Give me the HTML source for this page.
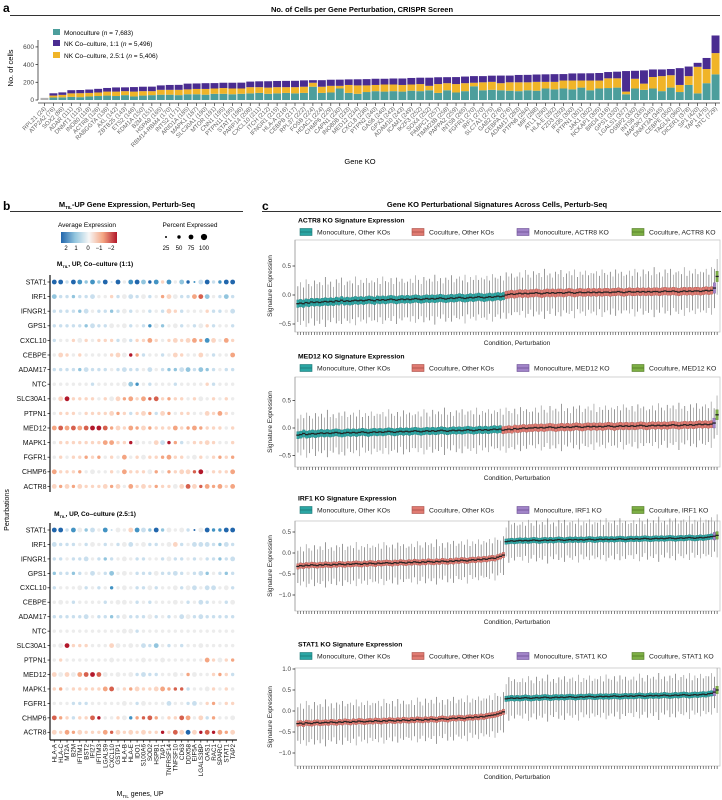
<!DOCTYPE html>
<html><head><meta charset="utf-8">
<style>
html,body{margin:0;padding:0;background:#fff;}
svg{display:block;font-family:"Liberation Sans",sans-serif;}
</style></head>
<body>
<svg id="fig" width="722" height="800" viewBox="0 0 722 800" xmlns="http://www.w3.org/2000/svg">
<defs>
<linearGradient id="cbar" x1="0" x2="1" y1="0" y2="0">
<stop offset="0" stop-color="#2166ac"/><stop offset="0.25" stop-color="#92c5de"/><stop offset="0.5" stop-color="#f7f7f7"/><stop offset="0.75" stop-color="#f4a582"/><stop offset="1" stop-color="#b2182b"/>
</linearGradient>
</defs>
<!-- Panel a static -->
<text x="3" y="12" font-size="12" font-weight="bold">a</text>
<text x="362" y="12" font-size="7.5" font-weight="bold" text-anchor="middle">No. of Cells per Gene Perturbation, CRISPR Screen</text>
<line x1="10" y1="15.5" x2="720" y2="15.5" stroke="#333" stroke-width="1"/>
<text transform="translate(13,68) rotate(-90)" font-size="7.5" text-anchor="middle">No. of cells</text>
<text x="360" y="164" font-size="7.5" text-anchor="middle">Gene KO</text>
<g>
<rect x="53" y="29" width="7" height="6" fill="#4c9e9c"/>
<text x="64" y="35" font-size="6.5">Monoculture (<tspan font-style="italic">n</tspan> = 7,683)</text>
<rect x="53" y="40" width="7" height="6" fill="#4a2c91"/>
<text x="64" y="46" font-size="6.5">NK Co–culture, 1:1 (<tspan font-style="italic">n</tspan> = 5,496)</text>
<rect x="53" y="52" width="7" height="6" fill="#f0b428"/>
<text x="64" y="58" font-size="6.5">NK Co–culture, 2.5:1 (<tspan font-style="italic">n</tspan> = 5,406)</text>
</g>
<g id="pa"></g>

<!-- Panel b static -->
<text x="3" y="210" font-size="12" font-weight="bold">b</text>
<text x="127" y="207" font-size="7.5" font-weight="bold" text-anchor="middle">M<tspan font-size="4.5" dy="2">TIL</tspan><tspan dy="-2">-UP Gene Expression, Perturb-Seq</tspan></text>
<line x1="10" y1="211.5" x2="243" y2="211.5" stroke="#333" stroke-width="1"/>
<text x="87" y="227" font-size="6.5" text-anchor="middle">Average Expression</text>
<rect x="61" y="232" width="56" height="11" fill="url(#cbar)"/>
<g font-size="6" text-anchor="middle">
<text x="66" y="250">2</text><text x="76" y="250">1</text><text x="88" y="250">0</text><text x="99" y="250">−1</text><text x="111" y="250">−2</text></g>
<text x="190" y="227" font-size="6.5" text-anchor="middle">Percent Expressed</text>
<g font-size="6" text-anchor="middle">
<circle cx="166" cy="237" r="1"/><circle cx="179" cy="237" r="1.7"/><circle cx="191" cy="237" r="2.4"/><circle cx="204" cy="237" r="3.1"/>
<text x="166" y="250">25</text><text x="179" y="250">50</text><text x="191" y="250">75</text><text x="204" y="250">100</text></g>
<text x="95" y="266" font-size="6.5" font-weight="bold" text-anchor="middle">M<tspan font-size="4" dy="2">TIL</tspan><tspan dy="-2">, UP, Co–culture (1:1)</tspan></text>
<text x="95" y="516" font-size="6.5" font-weight="bold" text-anchor="middle">M<tspan font-size="4" dy="2">TIL</tspan><tspan dy="-2">, UP, Co–culture (2.5:1)</tspan></text>
<text transform="translate(9,510) rotate(-90)" font-size="7" text-anchor="middle">Perturbations</text>
<text x="140" y="796" font-size="7" text-anchor="middle">M<tspan font-size="4.5" dy="2">TIL</tspan><tspan dy="-2"> genes, UP</tspan></text>
<g id="pb"></g>

<!-- Panel c static -->
<text x="262" y="210" font-size="12" font-weight="bold">c</text>
<text x="497" y="207" font-size="7.5" font-weight="bold" text-anchor="middle">Gene KO Perturbational Signatures Across Cells, Perturb-Seq</text>
<line x1="262" y1="211.5" x2="721" y2="211.5" stroke="#333" stroke-width="1"/>
<g id="pc"></g>
</svg>
<script>
// ---------- Panel a data ----------
const geneLabels = ["RPL21 (24)","ATP2A2 (76)","SOX2 (86)","ADAR (111)","DNMT1 (113)","INO80 (118)","ACTR8 (126)","RABGGTA (136)","AXL (142)","ZBTB25 (143)","ETS2 (146)","KDM1A (150)","B2M (151)","HSPA9 (165)","RBM14-RBM4 (170)","INTS2 (171)","ARID1A (185)","MAPK1 (187)","SLC30A1 (190)","MTOR (191)","CNN1 (195)","PTPN11 (195)","STAT1 (196)","PARP14 (208)","CXCL10 (211)","ITCH (212)","IFNGR1 (215)","HLA-A (216)","CEBPB (217)","RPL37 (222)","FOSB (224)","HDAC1 (224)","CHMP6 (229)","CAPN1 (230)","INO80B (233)","MED12 (234)","CXCL8 (236)","PTPN2 (240)","GAS6 (240)","GPX3 (243)","ADAM10 (243)","ICAM1 (249)","IKZF3 (252)","SOX4 (252)","PABPC1 (257)","TIMM23B (258)","PAPPA2 (259)","INTS8 (265)","FGFR1 (270)","IRF1 (270)","SLC7A1 (275)","GAB2 (276)","CEBPA (276)","ADAM17 (283)","PTPN6 (284)","MIF (288)","ATL1 (290)","HLA-E (292)","FZD3 (293)","IFI35 (300)","PTPN1 (301)","JAK1 (302)","NCKAP1 (305)","BRD4 (316)","GPS1 (320)","LGALS1 (327)","OSBP2 (330)","INTS6 (335)","MAP3K7 (345)","DNMT3A (345)","CEBPE (350)","TAGLN (360)","DICER1 (378)","SP1 (420)","TAP1 (475)","NTC (729)"];
const monoCounts = [24,28,30,35,32,40,45,50,45,55,40,50,55,60,60,55,65,65,60,70,70,65,70,75,80,70,75,80,75,80,150,80,85,130,80,70,90,100,95,100,95,105,100,110,80,110,85,100,155,110,115,110,105,100,110,105,130,120,130,120,140,110,130,135,140,65,130,115,130,100,140,90,170,75,190,290];
const co25Counts = [0,22,28,40,45,40,40,45,50,45,55,50,45,55,55,60,55,60,65,60,65,65,60,70,65,70,70,65,70,70,45,70,75,30,90,95,75,70,80,75,75,70,80,50,100,80,95,90,40,90,90,80,95,100,90,100,75,85,90,100,80,110,90,110,105,30,110,70,130,170,140,80,100,300,160,240];
const co11Counts = [0,26,28,36,36,38,41,41,47,43,51,50,51,50,55,56,65,62,65,61,60,65,66,63,66,72,70,71,72,72,29,74,69,70,63,69,71,70,65,68,73,74,72,92,77,68,79,75,75,70,70,86,76,83,84,83,85,87,73,80,81,82,85,71,75,232,90,150,85,75,70,190,108,45,125,199];
const yTicksA = [0,200,400,600];

// ---------- Panel b data ----------
const dotGenes = ["HLA-A","HLA-C","MT2A","B2M","IFITM1","BST2","IFI27","IFITM3","LGALS9","CXCL10","GSTP1","HLA-B","HLA-E","IDO1","S100A6","SOD2","HSPB1","TAP1","TNFRSF14","TNFSF10","CD63","DDX58","EIF5A","LGALS3BP","OAS1","RAC1","SPARC","STAT1","TAP2"];
const perturbations = ["STAT1","IRF1","IFNGR1","GPS1","CXCL10","CEBPE","ADAM17","NTC","SLC30A1","PTPN1","MED12","MAPK1","FGFR1","CHMP6","ACTR8"];
// colour level 0 (avg expr +2, blue) .. 8 (avg expr -2, red)
const avgExp1 = ["00301212030410201514201303100","23323334453433434654336724323","33332343323434434355344453343","33333233344434314244343453443","34454545553435565455556615465","45545444455486344345544543446","33332333343333434322323223433","44444434444421434443444453444","45855554545665677565545445454","45554555556535563564554455654","67676788765566565556566655545","45555555665584445386345555445","45455656454645455665544545656","65556444454655546465557845556","56565555565465556554575766656"];
const avgExp2 = ["00314234134451320244430401100","33334344343434433445343333233","33433343234443344343343433233","23323434324443334333343324323","34444343414443343444343433443","44434444344443434444434334434","33333343323433343434343333333","44444444444443444444444444444","44855544454444332434344444444","45444444444444444444444465456","54546787444443333444464445653","56455555674565555667734445454","44433344444443444434433456455","76535578445416776455764536444","55665555675555555857505878665"];
// percent expressed level 1..4 (25,50,75,100)
const pctExp = ["33233232313233323232321332233","32222232222332322233223332232","22222322222322222232222222223","22222232232322223223222322222","22223222222322232223233233232","23222222223322222223222322223","22222322222322232222332322222","22222222222332222222222222222","23322222233232323222222322222","22222222232222322322222232322","33333333323232322223223222222","22222222332223223322222232222","22222222222322322232223222222","32222232222322232222332322223","32323222323232322223333232323"];

// ---------- Panel c data ----------
const koNames = ["ACTR8","MED12","IRF1","STAT1"];
const monoMed1 = [-0.15,-0.14,-0.15,-0.13,-0.14,-0.12,-0.13,-0.12,-0.13,-0.12,-0.11,-0.12,-0.11,-0.12,-0.10,-0.11,-0.09,-0.11,-0.10,-0.11,-0.10,-0.09,-0.10,-0.09,-0.10,-0.09,-0.08,-0.09,-0.10,-0.08,-0.09,-0.08,-0.09,-0.08,-0.07,-0.08,-0.09,-0.08,-0.07,-0.08,-0.07,-0.08,-0.07,-0.06,-0.07,-0.08,-0.07,-0.06,-0.07,-0.06,-0.07,-0.06,-0.05,-0.06,-0.07,-0.06,-0.05,-0.06,-0.05,-0.04,-0.05,-0.06,-0.05,-0.04,-0.05,-0.04,-0.03,-0.04,-0.05,-0.04,-0.03,-0.04,-0.03,-0.02,-0.03,-0.02];
const cocMed1 = [0.00,0.01,0.02,0.01,0.02,0.03,0.02,0.03,0.02,0.03,0.03,0.04,0.03,0.02,0.03,0.04,0.03,0.04,0.03,0.04,0.04,0.03,0.04,0.05,0.04,0.03,0.04,0.05,0.04,0.04,0.05,0.04,0.05,0.04,0.05,0.04,0.05,0.05,0.04,0.05,0.05,0.06,0.05,0.04,0.05,0.06,0.05,0.05,0.06,0.05,0.06,0.05,0.06,0.05,0.06,0.06,0.05,0.06,0.07,0.06,0.06,0.07,0.06,0.05,0.06,0.07,0.06,0.07,0.06,0.07,0.07,0.06,0.07,0.08,0.07,0.08];
const monoMed2 = [-0.13,-0.12,-0.10,-0.12,-0.11,-0.10,-0.11,-0.10,-0.09,-0.10,-0.09,-0.10,-0.09,-0.08,-0.09,-0.10,-0.09,-0.08,-0.09,-0.08,-0.09,-0.08,-0.07,-0.08,-0.09,-0.08,-0.07,-0.08,-0.07,-0.08,-0.07,-0.06,-0.07,-0.08,-0.07,-0.06,-0.07,-0.06,-0.07,-0.06,-0.05,-0.06,-0.07,-0.06,-0.05,-0.06,-0.05,-0.06,-0.05,-0.04,-0.05,-0.06,-0.05,-0.04,-0.05,-0.04,-0.05,-0.04,-0.03,-0.04,-0.05,-0.04,-0.03,-0.04,-0.03,-0.04,-0.03,-0.02,-0.03,-0.02];
const cocMed2 = [-0.04,-0.03,-0.02,-0.03,-0.01,-0.02,-0.01,0.00,-0.01,0.00,0.00,0.01,0.00,0.01,0.00,0.01,0.02,0.01,0.00,0.01,0.02,0.01,0.02,0.01,0.02,0.03,0.02,0.01,0.02,0.03,0.02,0.03,0.02,0.03,0.02,0.03,0.04,0.03,0.02,0.03,0.04,0.03,0.04,0.03,0.04,0.03,0.04,0.05,0.04,0.03,0.04,0.05,0.04,0.05,0.04,0.05,0.04,0.05,0.06,0.05,0.04,0.05,0.06,0.05,0.06,0.05,0.06,0.07,0.06,0.07,0.06,0.07];
const cocMed3 = [-0.32,-0.30,-0.31,-0.29,-0.30,-0.28,-0.29,-0.30,-0.28,-0.29,-0.27,-0.28,-0.29,-0.27,-0.28,-0.26,-0.27,-0.28,-0.26,-0.27,-0.26,-0.25,-0.26,-0.27,-0.25,-0.26,-0.24,-0.25,-0.26,-0.24,-0.25,-0.24,-0.23,-0.24,-0.25,-0.23,-0.24,-0.22,-0.23,-0.24,-0.22,-0.23,-0.21,-0.22,-0.23,-0.21,-0.22,-0.20,-0.21,-0.22,-0.20,-0.21,-0.19,-0.20,-0.21,-0.19,-0.20,-0.18,-0.19,-0.17,-0.18,-0.19,-0.17,-0.16,-0.17,-0.15,-0.16,-0.14,-0.15,-0.13,-0.12,-0.13,-0.10,-0.08,-0.05];
const monoMed3 = [0.27,0.28,0.29,0.28,0.29,0.30,0.29,0.30,0.29,0.30,0.31,0.30,0.29,0.30,0.31,0.30,0.31,0.30,0.31,0.32,0.31,0.30,0.31,0.32,0.31,0.32,0.31,0.32,0.31,0.32,0.33,0.32,0.31,0.32,0.33,0.32,0.33,0.32,0.33,0.32,0.33,0.34,0.33,0.32,0.33,0.34,0.33,0.34,0.33,0.34,0.35,0.34,0.33,0.34,0.35,0.34,0.35,0.34,0.35,0.36,0.35,0.34,0.35,0.36,0.35,0.36,0.37,0.36,0.35,0.36,0.37,0.36,0.37,0.38,0.39];
const cocMed4 = [-0.30,-0.29,-0.31,-0.28,-0.29,-0.30,-0.28,-0.27,-0.29,-0.28,-0.27,-0.28,-0.26,-0.27,-0.28,-0.26,-0.27,-0.25,-0.26,-0.27,-0.25,-0.26,-0.24,-0.25,-0.26,-0.25,-0.24,-0.25,-0.23,-0.24,-0.25,-0.23,-0.24,-0.22,-0.23,-0.24,-0.22,-0.23,-0.21,-0.22,-0.23,-0.21,-0.22,-0.20,-0.21,-0.22,-0.20,-0.21,-0.19,-0.20,-0.21,-0.19,-0.18,-0.19,-0.20,-0.18,-0.17,-0.18,-0.16,-0.17,-0.18,-0.16,-0.15,-0.16,-0.14,-0.15,-0.13,-0.14,-0.12,-0.11,-0.10,-0.09,-0.07,-0.05,-0.02];
const monoMed4 = [0.29,0.30,0.31,0.30,0.31,0.30,0.31,0.32,0.31,0.30,0.31,0.32,0.31,0.32,0.33,0.32,0.31,0.32,0.33,0.32,0.33,0.32,0.33,0.34,0.33,0.32,0.33,0.34,0.33,0.34,0.35,0.34,0.33,0.34,0.35,0.34,0.35,0.34,0.35,0.36,0.35,0.34,0.35,0.36,0.35,0.36,0.35,0.36,0.37,0.36,0.35,0.36,0.37,0.36,0.37,0.36,0.37,0.38,0.37,0.36,0.37,0.38,0.37,0.38,0.39,0.38,0.37,0.38,0.39,0.38,0.39,0.40,0.39,0.41,0.42];
const koMonoMed = [0.12,0.09,0.40,0.45];
const koCocMed = [0.32,0.24,0.42,0.50];
const whiskerSpread = [0.30,0.36,0.28,0.40,0.33,0.27,0.38,0.31,0.35,0.29,0.42,0.30,0.34,0.26,0.37,0.32,0.39,0.28,0.33,0.36,0.30,0.41,0.27,0.35,0.31,0.38,0.29,0.34,0.32,0.37,0.28,0.40,0.33,0.30,0.36,0.27,0.39,0.31,0.35,0.29];
const yTicksC = [[0.5,0.0,-0.5],[0.5,0.0,-0.5],[0.5,0.0,-0.5,-1.0],[1.0,0.5,0.0,-0.5,-1.0]];
const yTickLabelsC = [["0.5","0.0","−0.5"],["0.5","0.0","−0.5"],["0.5","0.0","−0.5","−1.0"],["1.0","0.5","0.0","−0.5","−1.0"]];

const NS = "http://www.w3.org/2000/svg";
function el(tag, parent, attrs){ const e=document.createElementNS(NS,tag); for(const k in attrs) e.setAttribute(k,attrs[k]); parent.appendChild(e); return e; }

// ---------- draw panel a ----------
(function(){
  const g=document.getElementById('pa');
  const x0=40, x1=720, yBase=100, pxPerUnit=0.0885;
  const n=geneLabels.length, step=(x1-x0)/n;
  const yA = v => yBase - v*pxPerUnit;
  const ax=el('line',g,{x1:38,y1:40,x2:38,y2:yBase,stroke:'#333','stroke-width':0.8});
   
  yTicksA.forEach(t=>{
    const tk=el('line',g,{x1:35.5,x2:38,y1:yA(t),y2:yA(t),stroke:'#333','stroke-width':0.8});
     
    const tl=el('text',g,{x:34,y:yA(t)+2.2,'font-size':6.5,'text-anchor':'end',fill:'#444'}); tl.textContent=t;
     
  });
  const xa=el('line',g,{x1:38,y1:yBase+3,x2:x1,y2:yBase+3,stroke:'#333','stroke-width':0.8});
   
  for(let i=0;i<n;i++){
    const bx=x0+i*step+0.5, bw=step-1, cx=x0+(i+0.5)*step;
    const m=monoCounts[i], y25=co25Counts[i], y11=co11Counts[i];
    const grey = (y25===0 && y11===0);
    const r1=el('rect',g,{x:bx,y:yA(m),width:bw,height:m*pxPerUnit,fill:grey?'#b4b4b4':'#4c9e9c'});
     
    const r2=el('rect',g,{x:bx,y:yA(m+y25),width:bw,height:y25*pxPerUnit,fill:'#f0b428'});
     
    const r3=el('rect',g,{x:bx,y:yA(m+y25+y11),width:bw,height:y11*pxPerUnit,fill:'#4a2c91'});
     
    const tk=el('line',g,{x1:cx,x2:cx,y1:yBase+3,y2:yBase+6,stroke:'#333','stroke-width':0.7});
     
    const t=el('text',g,{transform:`translate(${cx+2},${yBase+9}) rotate(-45)`,'font-size':6,'text-anchor':'end',fill:'#666'});
    t.textContent=geneLabels[i];
     
  }
})();

// ---------- draw panel b ----------
(function(){
  const g=document.getElementById('pb');
  const cols=['#2166ac','#4393c3','#92c5de','#c9dfee','#ececec','#fbd5c2','#f4a582','#d6604d','#b2182b'];
  const radii=[0,1.0,1.7,2.4,3.1];
  const cx0=54.3, cstep=6.37;
  const xB = j => cx0 + j*cstep;
  function block(data, y0, rstep, axisBottom, withXAxis, nameP){
    const ax=el('line',g,{x1:50,x2:50,y1:y0-7,y2:axisBottom,stroke:'#111','stroke-width':1.2});
     
    perturbations.forEach((p,i)=>{
      const y=y0+i*rstep;
      const lab=el('text',g,{x:46.5,y:y+2.4,'font-size':7,'text-anchor':'end',fill:'#111'}); lab.textContent=p;
       
      const tk=el('line',g,{x1:47.5,x2:50,y1:y,y2:y,stroke:'#111','stroke-width':0.7});
       
      const row=data[i], srow=pctExp[i];
      for(let j=0;j<dotGenes.length;j++){
        const c=parseInt(row[j]||'4',10), s=parseInt(srow[j]||'2',10);
        const d=el('circle',g,{cx:xB(j),cy:y,r:radii[s],fill:cols[c]});
         
      }
    });
    if(withXAxis){
      const xa=el('line',g,{x1:50,x2:237,y1:axisBottom,y2:axisBottom,stroke:'#111','stroke-width':1.2});
       
      dotGenes.forEach((gn,j)=>{
        const tk=el('line',g,{x1:xB(j),x2:xB(j),y1:axisBottom,y2:axisBottom+2.5,stroke:'#111','stroke-width':0.7});
         
        const t=el('text',g,{transform:`translate(${xB(j)+2.2},${axisBottom+4}) rotate(-90)`,'font-size':6.3,'text-anchor':'end',fill:'#111'});
        t.textContent=gn;
         
      });
    }
  }
  block(avgExp1, 282, 14.6, 492, false, 'dotplot1');
  block(avgExp2, 530, 14.45, 740, true, 'dotplot2');
})();

// ---------- draw panel c ----------
(function(){
  const g=document.getElementById('pc');
  const panels=[
    {sub:220, top:240, bot:332, y0:295, ppu:58, groups:[['mono',monoMed1],['coc',cocMed1]], ws:1.0},
    {sub:356, top:377, bot:467, y0:428, ppu:55, groups:[['mono',monoMed2],['coc',cocMed2]], ws:1.0},
    {sub:498, top:521, bot:611, y0:553, ppu:42, groups:[['coc',cocMed3],['mono',monoMed3]], ws:1.25},
    {sub:644, top:668, bot:766, y0:711, ppu:42, groups:[['coc',cocMed4],['mono',monoMed4]], ws:1.3}
  ];
  const fill={mono:'#2ba6a4',coc:'#e07b72',kom:'#a184c8',koc:'#7daf45'};
  const strokeC={mono:'#1d7775',coc:'#a94f48',kom:'#6c4f94',koc:'#527a25'};
  const px0=295, px1=720;
  panels.forEach((P,pi)=>{
    const ko=koNames[pi];
    const st=el('text',g,{x:298,y:P.sub+2.5,'font-size':6.8,'font-weight':'bold'}); st.textContent=ko+' KO Signature Expression';
     
    const legItems=[['mono','Monoculture, Other KOs',300],['coc','Coculture, Other KOs',412],['kom','Monoculture,  '+ko+' KO',517],['koc','Coculture,  '+ko+' KO',632]];
    legItems.forEach(L=>{
      const ly=P.sub+12;
      const r=el('rect',g,{x:L[2],y:ly-3.5,width:12,height:7,fill:fill[L[0]],stroke:strokeC[L[0]],'stroke-width':0.6});
       
      const ml=el('line',g,{x1:L[2],x2:L[2]+12,y1:ly,y2:ly,stroke:strokeC[L[0]],'stroke-width':0.8});
       
      const t=el('text',g,{x:L[2]+17,y:ly+2.5,'font-size':6.8,fill:'#222'}); t.textContent=L[1];
       
    });
    const yC = v => P.y0 - v*P.ppu;
    const frame=el('rect',g,{x:px0,y:P.top,width:px1-px0,height:P.bot-P.top,fill:'none',stroke:'#c8c8c8','stroke-width':0.8});
     
    const ax=el('line',g,{x1:px0,x2:px0,y1:P.top,y2:P.bot,stroke:'#999','stroke-width':0.8});
     
    yTicksC[pi].forEach((t,k)=>{
      const tk=el('line',g,{x1:px0-2.5,x2:px0,y1:yC(t),y2:yC(t),stroke:'#333','stroke-width':0.8});
       
      const tl=el('text',g,{x:px0-4,y:yC(t)+2.2,'font-size':6.3,'text-anchor':'end',fill:'#444'}); tl.textContent=yTickLabelsC[pi][k];
       
    });
    const yl=el('text',g,{transform:`translate(272,${(P.top+P.bot)/2}) rotate(-90)`,'font-size':6.5,'text-anchor':'middle',fill:'#222'}); yl.textContent='Signature Expression';
     
    const xl=el('text',g,{x:517,y:P.bot+13,'font-size':6.5,'text-anchor':'middle',fill:'#222'}); xl.textContent='Condition, Perturbation';
     
    // assemble boxes
    const boxes=[];
    P.groups.forEach(G=>G[1].forEach(v=>boxes.push([G[0],v])));
    boxes.push(['kom',koMonoMed[pi]]); boxes.push(['koc',koCocMed[pi]]);
    const n=boxes.length, step=(px1-px0-3)/n;
    boxes.forEach((b,i)=>{
      const cx=px0+1.5+(i+0.5)*step;
      const sp=whiskerSpread[i%whiskerSpread.length]*P.ws;
      const big = (b[0]==='koc'||b[0]==='kom');
      const w=el('line',g,{x1:cx,x2:cx,y1:yC(b[1]+sp),y2:yC(b[1]-sp*1.05),stroke:i%2? '#8a8a8a':'#555','stroke-width':0.6});
       
      const iq=big?0.09:0.065;
      const r=el('rect',g,{x:cx-step*0.45,y:yC(b[1]+iq),width:step*0.9,height:iq*2*P.ppu,fill:fill[b[0]],stroke:strokeC[b[0]],'stroke-width':0.3});
       
      const m=el('line',g,{x1:cx-step*0.6,x2:cx+step*0.6,y1:yC(b[1]),y2:yC(b[1]),stroke:'#222','stroke-width':1.3});
       
      const tk=el('line',g,{x1:cx,x2:cx,y1:P.bot,y2:P.bot+3,stroke:'#333','stroke-width':0.6});
       
    });
  });
})();
</script>
</body></html>
